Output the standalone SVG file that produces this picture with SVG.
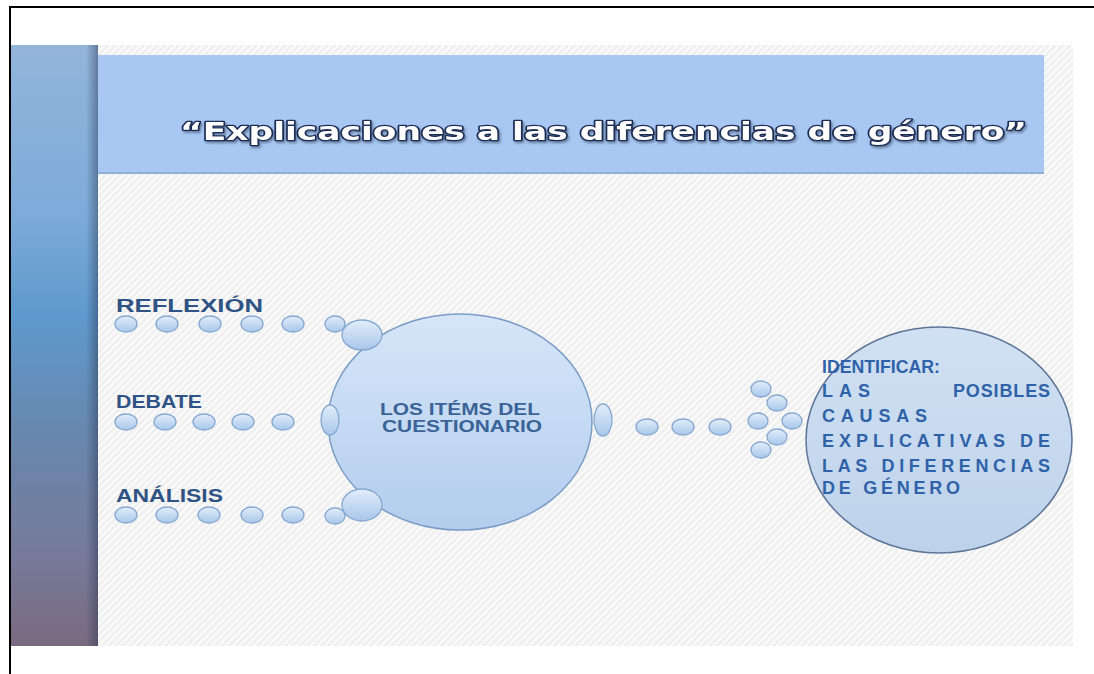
<svg xmlns="http://www.w3.org/2000/svg" width="1094" height="674" viewBox="0 0 1094 674">
  <defs>
    <pattern id="hatch" width="5" height="5" patternUnits="userSpaceOnUse" patternTransform="rotate(-45)">
      <rect width="5" height="5" fill="#efefef"/>
      <rect width="5" height="2.2" fill="#fbfbfb"/>
    </pattern>
    <linearGradient id="barGrad" x1="0" y1="0" x2="0" y2="1">
      <stop offset="0" stop-color="#93b5da"/>
      <stop offset="0.28" stop-color="#7dabd9"/>
      <stop offset="0.45" stop-color="#5e99cd"/>
      <stop offset="0.65" stop-color="#6887ad"/>
      <stop offset="0.85" stop-color="#767a9a"/>
      <stop offset="1" stop-color="#7a6a80"/>
    </linearGradient>
    <linearGradient id="barShade" x1="0" y1="0" x2="1" y2="0">
      <stop offset="0" stop-color="#26324f" stop-opacity="0"/>
      <stop offset="1" stop-color="#26324f" stop-opacity="0.45"/>
    </linearGradient>
    <linearGradient id="dotGrad" x1="0" y1="0" x2="0" y2="1">
      <stop offset="0" stop-color="#e2eefb"/>
      <stop offset="1" stop-color="#a8c6ea"/>
    </linearGradient>
    <linearGradient id="bigGrad" x1="0" y1="0" x2="0" y2="1">
      <stop offset="0" stop-color="#d6e6f8"/>
      <stop offset="1" stop-color="#b3cdee"/>
    </linearGradient>
    <linearGradient id="rightGrad" x1="0" y1="0" x2="0" y2="1">
      <stop offset="0" stop-color="#d1e1f3"/>
      <stop offset="1" stop-color="#bdd2ea"/>
    </linearGradient>
    <filter id="titleShadow" x="-5%" y="-30%" width="110%" height="160%">
      <feDropShadow dx="1.5" dy="2" stdDeviation="1" flood-color="#2a3550" flood-opacity="0.5"/>
    </filter>
    <style>
      .dot { fill: url(#dotGrad); stroke: #86a8d0; stroke-width: 1.3; }
      .big { fill: url(#bigGrad); stroke: #7a9cc6; stroke-width: 1.5; }
      .label { font-family: "Liberation Sans", Arial, sans-serif; font-weight: bold; font-size: 19px; fill: #2f5384; }
      .ctext { font-family: "Liberation Sans", Arial, sans-serif; font-weight: bold; font-size: 16px; fill: #3a6397; }
      .rtext { font-family: "Liberation Sans", Arial, sans-serif; font-weight: bold; font-size: 18px; fill: #2f62a8; }
      .title { font-family: "DejaVu Sans", "Liberation Sans", sans-serif; font-weight: bold; font-size: 25px; fill: #ffffff; stroke: #1e2d55; stroke-width: 2.6; paint-order: stroke fill; stroke-linejoin: round; }
    </style>
  </defs>

  <rect width="1094" height="674" fill="#ffffff"/>

  <g id="slide">
    <rect x="10" y="45" width="1063" height="601" fill="url(#hatch)"/>
  </g>

  <g id="left-bar">
    <rect x="10" y="45" width="88" height="601" fill="url(#barGrad)"/>
    <rect x="86" y="45" width="12" height="601" fill="url(#barShade)"/>
  </g>

  <g id="header">
    <rect x="98" y="55" width="946" height="119" fill="#a8c8f3"/>
    <rect x="98" y="172" width="946" height="2" fill="#90aed6"/>
    <text class="title" x="180" y="140" textLength="847" lengthAdjust="spacingAndGlyphs" filter="url(#titleShadow)">“Explicaciones a las diferencias de género”</text>
  </g>

  <g id="border">
    <rect x="9" y="6" width="1085" height="2" fill="#000000"/>
    <rect x="9" y="6" width="2" height="668" fill="#000000"/>
  </g>

  <g id="connectors">
    <ellipse class="dot" cx="126" cy="324" rx="11" ry="8"/>
    <ellipse class="dot" cx="167" cy="324" rx="11" ry="8"/>
    <ellipse class="dot" cx="210" cy="324" rx="11" ry="8"/>
    <ellipse class="dot" cx="252" cy="324" rx="11" ry="8"/>
    <ellipse class="dot" cx="293" cy="324" rx="11" ry="8"/>
    <ellipse class="dot" cx="335" cy="324" rx="10" ry="8"/>
    <ellipse class="dot" cx="126" cy="422" rx="11" ry="8"/>
    <ellipse class="dot" cx="165" cy="422" rx="11" ry="8"/>
    <ellipse class="dot" cx="204" cy="422" rx="11" ry="8"/>
    <ellipse class="dot" cx="243" cy="422" rx="11" ry="8"/>
    <ellipse class="dot" cx="283" cy="422" rx="11" ry="8"/>
    <ellipse class="dot" cx="126" cy="515" rx="11" ry="8"/>
    <ellipse class="dot" cx="167" cy="515" rx="11" ry="8"/>
    <ellipse class="dot" cx="209" cy="515" rx="11" ry="8"/>
    <ellipse class="dot" cx="252" cy="515" rx="11" ry="8"/>
    <ellipse class="dot" cx="293" cy="515" rx="11" ry="8"/>
    <ellipse class="dot" cx="335" cy="516" rx="10" ry="8"/>
    <ellipse class="dot" cx="647" cy="427" rx="11" ry="8"/>
    <ellipse class="dot" cx="683" cy="427" rx="11" ry="8"/>
    <ellipse class="dot" cx="720" cy="427" rx="11" ry="8"/>
    <ellipse class="dot" cx="761" cy="389" rx="10" ry="8"/>
    <ellipse class="dot" cx="777" cy="403" rx="10" ry="8"/>
    <ellipse class="dot" cx="758" cy="421" rx="10" ry="8"/>
    <ellipse class="dot" cx="792" cy="421" rx="10" ry="8"/>
    <ellipse class="dot" cx="777" cy="437" rx="10" ry="8"/>
    <ellipse class="dot" cx="761" cy="450" rx="10" ry="8"/>
  </g>

  <g id="node-reflexion">
    <text class="label" x="116" y="312" textLength="147" lengthAdjust="spacingAndGlyphs">REFLEXIÓN</text>
  </g>
  <g id="node-debate">
    <text class="label" x="116" y="408" textLength="86" lengthAdjust="spacingAndGlyphs">DEBATE</text>
  </g>
  <g id="node-analisis">
    <text class="label" x="116" y="502" textLength="107" lengthAdjust="spacingAndGlyphs">ANÁLISIS</text>
  </g>

  <g id="node-items">
    <ellipse class="big" cx="460" cy="422" rx="132" ry="108"/>
    <ellipse class="dot" cx="362" cy="335" rx="20" ry="15"/>
    <ellipse class="dot" cx="362" cy="505" rx="20" ry="16"/>
    <ellipse class="dot" cx="330" cy="420" rx="9" ry="15"/>
    <ellipse class="dot" cx="603" cy="420" rx="9" ry="16"/>
    <text class="ctext" x="380" y="415" textLength="160" lengthAdjust="spacingAndGlyphs">LOS ITÉMS DEL</text>
    <text class="ctext" x="382" y="432" textLength="160" lengthAdjust="spacingAndGlyphs">CUESTIONARIO</text>
  </g>

  <g id="node-identificar">
    <ellipse cx="939" cy="440" rx="133" ry="113" fill="url(#rightGrad)" stroke="#5d7598" stroke-width="1.5"/>
    <text class="rtext" x="822" y="373" textLength="118" lengthAdjust="spacingAndGlyphs">IDENTIFICAR:</text>
    <text class="rtext" y="397"><tspan x="822" textLength="48" lengthAdjust="spacing">LAS</tspan> <tspan x="953" textLength="97" lengthAdjust="spacing">POSIBLES</tspan></text>
    <text class="rtext" x="822" y="422" textLength="105" lengthAdjust="spacing">CAUSAS</text>
    <text class="rtext" x="822" y="447" textLength="228" lengthAdjust="spacing">EXPLICATIVAS DE</text>
    <text class="rtext" x="822" y="472" textLength="228" lengthAdjust="spacing">LAS DIFERENCIAS</text>
    <text class="rtext" x="822" y="494" textLength="138" lengthAdjust="spacing">DE GÉNERO</text>
  </g>
</svg>
